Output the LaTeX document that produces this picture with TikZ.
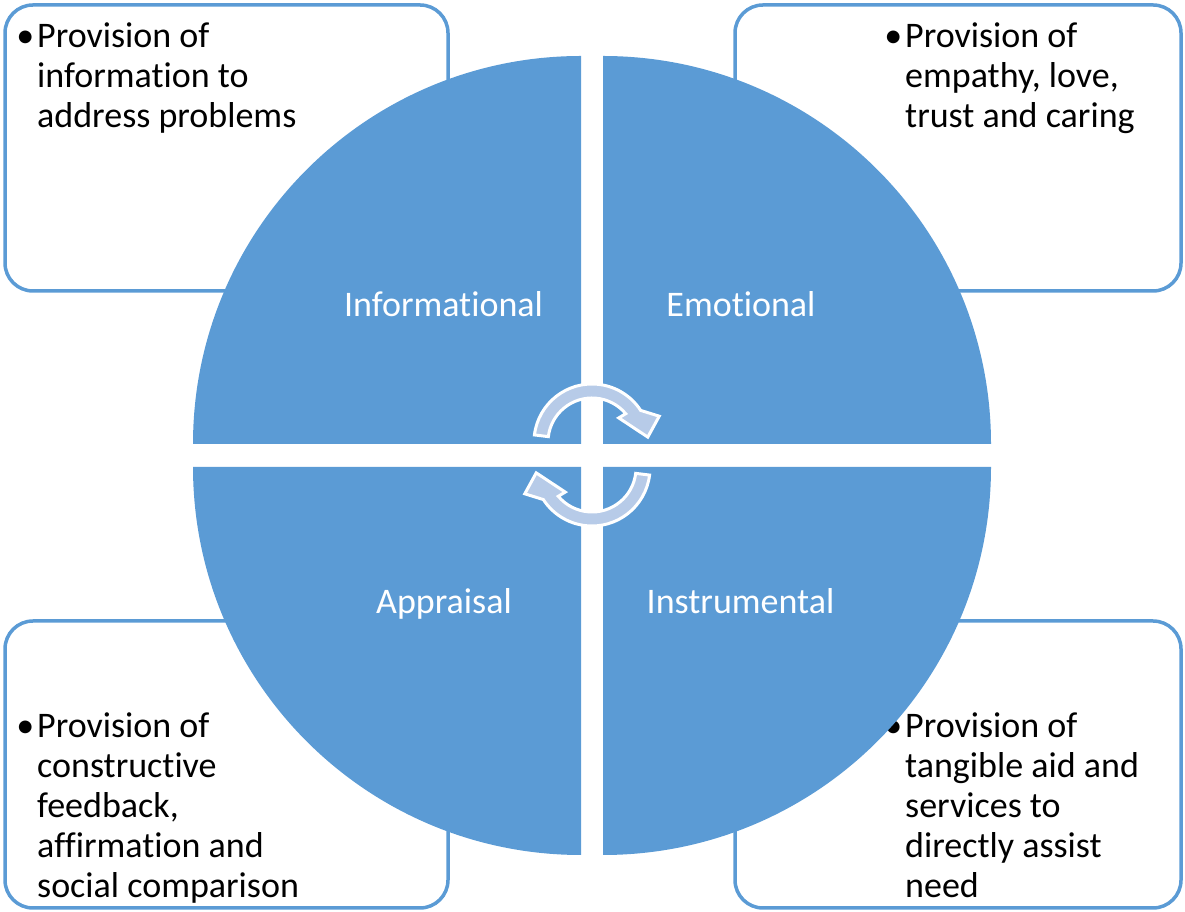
\documentclass[tikz,border=0pt]{standalone}
\usepackage{fontspec}
\setmainfont{Carlito}[Ligatures=NoCommon]
\definecolor{qblue}{RGB}{91,155,213}
\definecolor{arrowfill}{RGB}{183,203,232}
\tikzset{
  quad/.style={fill=qblue},
  infobox/.style={draw=qblue, line width=3.5pt, rounded corners=28pt},
  boxtext/.style={anchor=base west, inner sep=0pt, font=\fontsize{36}{40}\selectfont},
  quadlabel/.style={anchor=base, text=white, inner sep=0pt, font=\fontsize{36}{40}\selectfont},
  cycarrow/.style={fill=arrowfill, draw=white, line width=3pt, line join=miter}
}
\newcommand{\bul}{\leavevmode\llap{•\hspace{3pt}}}
\newcommand{\btext}[1]{\parbox[t]{400pt}{\raggedright #1}}
\begin{document}
\begin{tikzpicture}[x=1pt,y=1pt]
\useasboundingbox (0,0) rectangle (1185,912);
% boxes
\draw[infobox] (5,907) rectangle (448,621);
\draw[infobox] (735,907) rectangle (1181,621);
\draw[infobox] (5,291) rectangle (448,4);
\draw[infobox] (735,291) rectangle (1181,4);
% box texts
\node[boxtext] (tinfo) at (37,864) {\btext{\bul Provision of\\information to\\address problems}};
\node[boxtext] (temo) at (905,864) {\btext{\bul Provision of\\empathy, love,\\trust and caring}};
\node[boxtext] (tapp) at (37,174) {\btext{\bul Provision of\\constructive\\feedback,\\affirmation and\\social comparison}};
\node[boxtext] (tins) at (905,174) {\btext{\bul Provision of\\tangible aid and\\services to\\directly assist\\need}};
% quadrants
\fill[quad] (581,468) -- ++(180:388) arc[start angle=180, end angle=90, radius=388] -- cycle;
\fill[quad] (603,468) -- ++(0:388) arc[start angle=0, end angle=90, radius=388] -- cycle;
\fill[quad] (581,445) -- ++(180:388) arc[start angle=180, end angle=270, radius=388] -- cycle;
\fill[quad] (603,445) -- ++(0:388) arc[start angle=0, end angle=-90, radius=388] -- cycle;
% labels
\node[quadlabel] (linfo) at (443.5,595) {Informational};
\node[quadlabel] (lemo) at (741,595) {Emotional};
\node[quadlabel] (lapp) at (444,298) {Appraisal};
\node[quadlabel] (lins) at (740.5,298) {Instrumental};
% cycle arrows
\path[cycarrow] ([shift={(173:58)}]592,470) arc[start angle=173, end angle=33, radius=58]
  -- ([shift={(21:72)}]592,470) -- ([shift={(5:56)}]592,470) -- ([shift={(42:36)}]592,470)
  -- ([shift={(40:44)}]592,470) arc[start angle=40, end angle=173, radius=44] -- cycle;
\begin{scope}[rotate around={180:(592,457)}]
\path[cycarrow] ([shift={(173:58)}]592,470) arc[start angle=173, end angle=33, radius=58]
  -- ([shift={(21:72)}]592,470) -- ([shift={(5:56)}]592,470) -- ([shift={(42:36)}]592,470)
  -- ([shift={(40:44)}]592,470) arc[start angle=40, end angle=173, radius=44] -- cycle;
\end{scope}
\end{tikzpicture}
\end{document}
